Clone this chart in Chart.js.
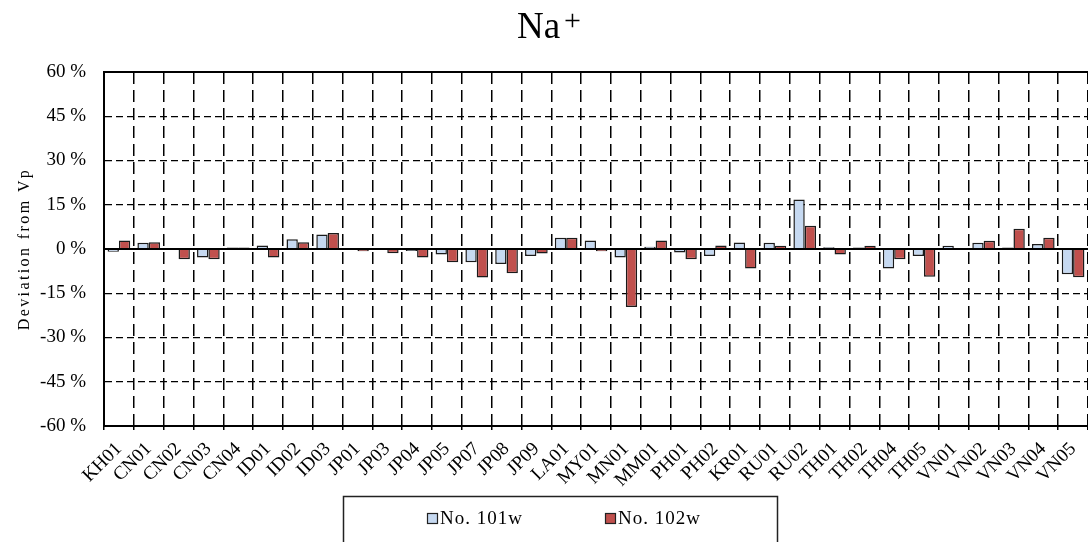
<!DOCTYPE html>
<html>
<head>
<meta charset="utf-8">
<script src="https://cdn.jsdelivr.net/npm/chart.js@4/dist/chart.umd.min.js"></script>
<style>
  html, body { margin: 0; padding: 0; background: #fff; }
  #wrap { width: 1088px; height: 542px; position: relative; }
</style>
</head>
<body>
<div id="wrap"><canvas id="chart" width="1088" height="542"></canvas></div>
<script>
// sites along the x axis
const sites = ["KH01", "CN01", "CN02", "CN03", "CN04", "ID01", "ID02", "ID03", "JP01", "JP03",
  "JP04", "JP05", "JP07", "JP08", "JP09", "LA01", "MY01", "MN01", "MM01", "PH01", "PH02",
  "KR01", "RU01", "RU02", "TH01", "TH02", "TH04", "TH05", "VN01", "VN02", "VN03", "VN04", "VN05"];

// deviation from Vp (%)
const dev101w = [-0.9, 2.1, 0.0, -2.9, 0.5, 1.2, 3.3, 4.9, -0.3, -0.3,
  -0.7, -1.9, -4.5, -5.1, -2.4, 3.8, 2.9, -2.9, 0.8, -1.2, -2.4,
  2.2, 2.1, 16.8, 0.6, 0.5, -6.6, -2.4, 1.1, 2.1, 0.5, 1.7, -8.6];
const dev102w = [2.9, 2.3, -3.5, -3.5, 0.5, -2.9, 2.3, 5.4, -0.8, -1.4,
  -2.9, -4.5, -9.7, -8.2, -1.5, 3.8, -0.8, -19.7, 2.9, -3.5, 1.2,
  -6.6, 1.1, 7.9, -1.9, 1.1, -3.5, -9.4, -0.3, 2.8, 6.9, 3.8, -9.6];

const seriesNames = ["No. 101w", "No. 102w"];
const yTicks = [-60, -45, -30, -15, 0, 15, 30, 45, 60];

const serif = "'Liberation Serif', 'Times New Roman', serif";

// title with superscript +
const titlePlugin = {
  id: "titleSup",
  afterLayout(chart) {
    // wider spacing for the y axis title, like the original
    const s = chart.scales.y;
    if (!s._spaced) {
      const orig = s.drawTitle;
      s.drawTitle = function () {
        this.ctx.save();
        this.ctx.letterSpacing = "2.4px";
        orig.call(this);
        this.ctx.restore();
      };
      s._spaced = true;
    }
  },
  afterDraw(chart) {
    const ctx = chart.ctx;
    ctx.save();
    ctx.fillStyle = "#000";
    ctx.textBaseline = "alphabetic";
    ctx.font = "37px " + serif;
    const w = ctx.measureText("Na").width;
    ctx.font = "30px " + serif;
    const w2 = ctx.measureText("+").width;
    const x0 = 549 - (w + 4 + w2) / 2;
    ctx.font = "37px " + serif;
    ctx.fillText("Na", x0, 38);
    ctx.font = "30px " + serif;
    ctx.fillText("+", x0 + w + 4, 30);
    ctx.restore();
  }
};

// zero line, top edge and boxed legend
const framePlugin = {
  id: "frame",
  afterDatasetsDraw(chart) {
    const ctx = chart.ctx;
    const a = chart.chartArea;
    const y0 = chart.scales.y.getPixelForValue(0);
    ctx.save();
    ctx.strokeStyle = "#000";
    ctx.lineWidth = 2;
    ctx.beginPath();
    ctx.moveTo(a.left, y0);
    ctx.lineTo(a.right, y0);
    ctx.moveTo(a.left, a.top);
    ctx.lineTo(a.right, a.top);
    ctx.stroke();
    ctx.restore();
  },
  afterDraw(chart) {
    const ctx = chart.ctx;
    ctx.save();
    ctx.strokeStyle = "#222";
    ctx.lineWidth = 1.5;
    ctx.strokeRect(343.5, 496.5, 434, 60);
    const xs = [427, 605];
    chart.data.datasets.forEach((ds, i) => {
      ctx.fillStyle = ds.backgroundColor;
      ctx.fillRect(xs[i], 513, 11, 11);
      ctx.strokeStyle = "#222";
      ctx.lineWidth = 1.2;
      ctx.strokeRect(xs[i] + 0.5, 513.5, 10, 10);
      ctx.fillStyle = "#000";
      ctx.font = "19px " + serif;
      ctx.letterSpacing = "1px";
      ctx.textBaseline = "middle";
      ctx.fillText(ds.label, xs[i] + 13, 519);
    });
    ctx.restore();
  }
};

new Chart(document.getElementById("chart"), {
  type: "bar",
  data: {
    labels: sites,
    datasets: [
      {
        label: seriesNames[0],
        data: dev101w,
        backgroundColor: "#C6D9F1",
        borderColor: "#1a1a1a",
        borderWidth: 1.5
      },
      {
        label: seriesNames[1],
        data: dev102w,
        backgroundColor: "#C0504D",
        borderColor: "#1a1a1a",
        borderWidth: 1.5
      }
    ]
  },
  options: {
    responsive: false,
    animation: false,
    devicePixelRatio: 1,
    layout: { padding: { top: 72, right: 0, left: 15, bottom: 0 } },
    datasets: { bar: { categoryPercentage: 0.76, barPercentage: 1.0 } },
    plugins: {
      legend: { display: false },
      tooltip: { enabled: false }
    },
    scales: {
      x: {
        afterFit(scale) {
          scale.height = 116;
          scale.paddingLeft = 0;
          scale.paddingRight = 0;
        },
        grid: {
          offset: true,
          color: "#000",
          lineWidth: 1.5,
          drawTicks: true,
          tickLength: 4
        },
        border: { display: true, color: "#000", width: 2, dash: [12, 6] },
        ticks: {
          color: "#000",
          font: { family: serif, size: 19 },
          maxRotation: 45,
          minRotation: 45,
          autoSkip: false,
          padding: 8
        }
      },
      y: {
        min: -60,
        max: 60,
        afterFit(scale) { scale.width = 89; },
        afterBuildTicks(scale) { scale.ticks = yTicks.map(v => ({ value: v })); },
        grid: {
          color: "#000",
          lineWidth: 1.3,
          drawTicks: false
        },
        border: { display: true, color: "#000", width: 2, dash: [7, 4] },
        title: {
          display: true,
          text: "Deviation from Vp",
          color: "#000",
          font: { family: serif, size: 16 },
          padding: { top: 0, bottom: 4 }
        },
        ticks: {
          color: "#000",
          font: { family: serif, size: 19 },
          padding: 18,
          callback: v => v + " %"
        }
      }
    }
  },
  plugins: [titlePlugin, framePlugin]
});
</script>
</body>
</html>
